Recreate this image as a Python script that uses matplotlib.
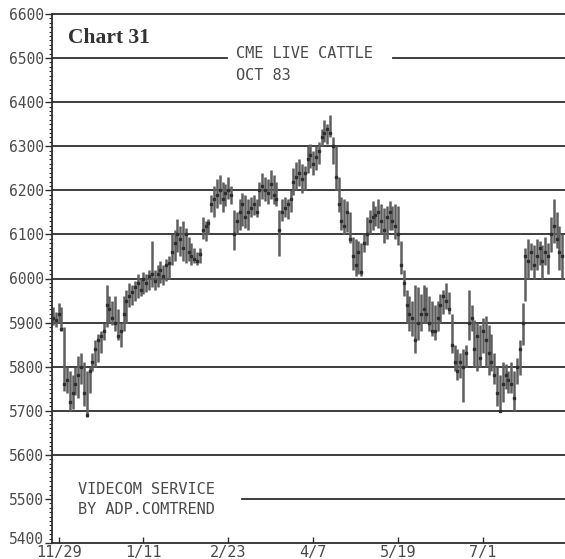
import matplotlib
matplotlib.use("Agg")
import matplotlib.pyplot as plt
from matplotlib.ticker import MultipleLocator, FixedLocator
from matplotlib.transforms import ScaledTranslation

# ---- data: daily high / low / close (CME Live Cattle, Oct 83) ----
highs = [5935, 5925, 5945, 5935, 5890, 5800, 5790, 5780, 5800, 5825,
         5830, 5810, 5790, 5800, 5830, 5860, 5875, 5880, 5900, 5985,
         5960, 5950, 5960, 5930, 5900, 5960, 5975, 5990, 5985, 5995,
         6010, 6000, 6015, 6010, 6020, 6085, 6020, 6030, 6040, 6030,
         6045, 6050, 6100, 6110, 6135, 6120, 6130, 6115, 6095, 6080,
         6070, 6060, 6070, 6140, 6130, 6135, 6190, 6210, 6225, 6235,
         6220, 6215, 6230, 6210, 6155, 6150, 6180, 6195, 6190, 6180,
         6185, 6190, 6180, 6220, 6240, 6230, 6225, 6245, 6235, 6220,
         6155, 6180, 6185, 6180, 6200, 6250, 6265, 6270, 6260, 6255,
         6300, 6305, 6290, 6300, 6310, 6340, 6360, 6350, 6370, 6320,
         6300, 6230, 6185, 6180, 6175, 6150, 6095, 6090, 6085, 6080,
         6100, 6140, 6155, 6175, 6165, 6180, 6170, 6160, 6165, 6175,
         6165, 6170, 6165, 6085, 6020, 5975, 5960, 5950, 5985, 5980,
         5965, 5985, 5980, 5960, 5950, 5940, 5950, 5965, 5975, 5990,
         5970, 5920, 5850, 5840, 5830, 5840, 5850, 5975, 5940, 5905,
         5900, 5895, 5910, 5915, 5895, 5875, 5830, 5800, 5780, 5810,
         5805, 5790, 5810, 5790, 5820, 5860, 5945, 6070, 6090, 6080,
         6075, 6090, 6085, 6075, 6095, 6080, 6140, 6180, 6150, 6120,
         6100]
lows = [5895, 5890, 5900, 5880, 5745, 5740, 5700, 5705, 5735, 5730,
        5760, 5710, 5685, 5740, 5790, 5800, 5810, 5830, 5860, 5890,
        5900, 5895, 5880, 5860, 5845, 5880, 5900, 5935, 5940, 5950,
        5955, 5960, 5965, 5970, 5975, 5980, 5975, 5980, 5990, 5985,
        5995, 6000, 6030, 6040, 6060, 6050, 6040, 6035, 6040, 6030,
        6035, 6030, 6035, 6090, 6085, 6100, 6150, 6140, 6160, 6170,
        6150, 6165, 6180, 6170, 6065, 6100, 6110, 6120, 6115, 6110,
        6140, 6145, 6140, 6165, 6180, 6175, 6170, 6180, 6170, 6165,
        6050, 6130, 6140, 6135, 6150, 6190, 6200, 6210, 6195, 6200,
        6240, 6250, 6235, 6245, 6260, 6300, 6310, 6305, 6320, 6260,
        6200, 6150, 6110, 6100, 6105, 6080, 6020, 6005, 6010, 6005,
        6060, 6075, 6100, 6110, 6120, 6115, 6100, 6080, 6090, 6110,
        6110, 6090, 6075, 6010, 5960, 5900, 5880, 5870, 5830, 5860,
        5880, 5900, 5900, 5880, 5870, 5860, 5880, 5900, 5920, 5930,
        5920, 5830, 5790, 5770, 5775, 5720, 5800, 5860, 5880, 5800,
        5790, 5800, 5830, 5800, 5780, 5790, 5760, 5710, 5700, 5720,
        5750, 5740, 5740, 5700, 5760, 5780, 5850, 5950, 6000, 6020,
        6000, 6020, 6030, 6000, 6030, 6010, 6060, 6080, 6070, 6020,
        6000]
closes = [5910, 5905, 5920, 5885, 5760, 5770, 5720, 5740, 5760, 5780,
          5800, 5740, 5690, 5790, 5810, 5840, 5860, 5870, 5880, 5940,
          5930, 5910, 5900, 5870, 5880, 5920, 5950, 5960, 5970, 5980,
          5990, 5975, 6000, 5990, 6005, 6010, 5995, 6010, 6020, 6005,
          6030, 6035, 6060, 6080, 6100, 6090, 6070, 6100, 6060, 6050,
          6045, 6040, 6055, 6110, 6120, 6125, 6170, 6180, 6190, 6200,
          6180, 6195, 6200, 6190, 6100, 6130, 6150, 6170, 6140, 6150,
          6160, 6170, 6150, 6200, 6210, 6200, 6195, 6215, 6190, 6180,
          6110, 6150, 6160, 6170, 6180, 6220, 6230, 6240, 6225, 6240,
          6270, 6280, 6260, 6275, 6290, 6320, 6330, 6340, 6330, 6300,
          6230, 6170, 6130, 6120, 6150, 6090, 6050, 6030, 6060, 6015,
          6080, 6100, 6130, 6140, 6145, 6150, 6130, 6110, 6140, 6150,
          6130, 6120, 6100, 6030, 5990, 5940, 5920, 5910, 5860, 5900,
          5920, 5930, 5920, 5900, 5880, 5880, 5910, 5940, 5960, 5950,
          5930, 5850, 5810, 5790, 5810, 5800, 5830, 5900, 5910, 5840,
          5870, 5820, 5880, 5860, 5830, 5810, 5780, 5740, 5700, 5760,
          5780, 5770, 5760, 5730, 5800, 5840, 5900, 6050, 6040, 6060,
          6030, 6050, 6070, 6040, 6060, 6050, 6100, 6120, 6090, 6060,
          6050]
tick_labels = ["11/29", "1/11", "2/23", "4/7", "5/19", "7/1"]
tick_days = [2, 32, 62, 92, 122, 152]
y_ticks = list(range(5400, 6700, 100))

# ---- figure ----
W, H = 565, 559
fig = plt.figure(figsize=(W / 100, H / 100), dpi=100)
fig.patch.set_facecolor("white")
ax = fig.add_axes([52 / W, 1 - 543 / H, (W - 52) / W, (543 - 14) / H])
ax.set_xlim(-0.3, 181)
ax.set_ylim(5400, 6600)

gridc = "#2e2e2e"
for v in y_ticks[2:-1]:
    if v == 6500:
        ax.axhline(v, xmin=0, xmax=(227 - 52) / (W - 52), color=gridc, lw=1.3, zorder=1)
        ax.axhline(v, xmin=(393 - 52) / (W - 52), xmax=1, color=gridc, lw=1.3, zorder=1)
    else:
        ax.axhline(v, color=gridc, lw=1.3, zorder=1)
ax.axhline(5500, xmin=(242 - 52) / (W - 52), xmax=1, color=gridc, lw=1.3, zorder=1)

xs = list(range(len(highs)))
ax.vlines(xs, lows, highs, color="#5e5e5e", lw=1.8, zorder=2)
ax.plot(xs, closes, ls="none", marker="s", ms=2.1, color="#2e2e2e", zorder=3)

ax.spines["right"].set_visible(False)
for s in ["left", "bottom", "top"]:
    ax.spines[s].set_color(gridc)
    ax.spines[s].set_linewidth(1.3)

mono = "DejaVu Sans Mono"
ax.yaxis.set_major_locator(FixedLocator(y_ticks))
ax.yaxis.set_minor_locator(MultipleLocator(10))
ax.set_yticklabels([str(v) for v in y_ticks], family=mono, fontsize=10.5, color="#4a4a4a")
ax.tick_params(axis="y", which="major", direction="out", length=5, width=1, color=gridc, pad=1)
ax.tick_params(axis="y", which="minor", direction="out", length=2.5, width=0.8, color=gridc)
# lift the bottom label a little, as on the original printout
lbl0 = ax.get_yticklabels()[0]
lbl0.set_transform(lbl0.get_transform() + ScaledTranslation(0, 5 / 100, fig.dpi_scale_trans))

ax.xaxis.set_major_locator(FixedLocator(tick_days))
ax.set_xticklabels(tick_labels, family=mono, fontsize=11, color="#4a4a4a")
ax.tick_params(axis="x", which="major", direction="in", length=4, width=1, color=gridc, pad=1.5)

fig.text(68 / W, 1 - 38 / H, "Chart 31", family="Liberation Serif", fontweight="bold",
         fontsize=15.5, color="#333333", va="center", ha="left")
fig.text(236 / W, 1 - 54 / H, "CME LIVE CATTLE", family=mono, fontsize=11,
         color="#4a4a4a", va="center", ha="left")
fig.text(236 / W, 1 - 76 / H, "OCT 83", family=mono, fontsize=11,
         color="#4a4a4a", va="center", ha="left")
fig.text(78 / W, 1 - 489 / H, "VIDECOM SERVICE", family=mono, fontsize=11,
         color="#4a4a4a", va="center", ha="left")
fig.text(78 / W, 1 - 510 / H, "BY ADP.COMTREND", family=mono, fontsize=11,
         color="#4a4a4a", va="center", ha="left")

fig.savefig("out.png", dpi=100)
